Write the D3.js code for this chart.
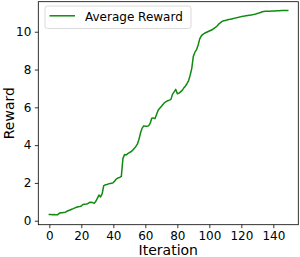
<!DOCTYPE html>
<html>
<head>
<meta charset="utf-8">
<script src="https://cdn.jsdelivr.net/npm/d3@7"></script>
<style>
  html, body { margin: 0; padding: 0; background: #fff; }
  svg { display: block; font-family: "DejaVu Sans", sans-serif; }
</style>
</head>
<body>
<svg id="chart" width="300" height="257"></svg>
<script>
// ---- data ----
const seriesName = "Average Reward";
const rewards = [
  0.33, 0.33, 0.32, 0.33, 0.31, 0.31, 0.38, 0.42, 0.42, 0.44,
  0.45, 0.50, 0.54, 0.57, 0.61, 0.64, 0.68, 0.71, 0.74, 0.75,
  0.78, 0.86, 0.87, 0.88, 0.90, 0.96, 0.98, 0.96, 0.92, 1.02,
  1.18, 1.36, 1.26, 1.42, 1.86, 1.90, 1.92, 1.95, 1.97, 1.98,
  2.02, 2.12, 2.22, 2.27, 2.29, 2.35, 3.30, 3.50, 3.48, 3.55,
  3.60, 3.65, 3.72, 3.82, 3.92, 4.05, 4.30, 4.65, 4.90, 5.02,
  5.00, 5.00, 5.02, 5.15, 5.42, 5.44, 5.40, 5.62, 5.85, 5.95,
  6.05, 6.15, 6.25, 6.30, 6.35, 6.38, 6.42, 6.70, 6.82, 6.95,
  6.72, 6.75, 6.82, 6.90, 7.02, 7.12, 7.25, 7.40, 7.70, 8.05,
  8.70, 8.92, 9.05, 9.30, 9.62, 9.78, 9.86, 9.92, 9.96, 10.00,
  10.04, 10.08, 10.12, 10.18, 10.24, 10.32, 10.42, 10.48, 10.55, 10.58,
  10.60, 10.62, 10.65, 10.66, 10.68, 10.70, 10.72, 10.74, 10.76, 10.78,
  10.80, 10.82, 10.83, 10.85, 10.86, 10.87, 10.88, 10.90, 10.92, 10.94,
  10.97, 10.99, 11.02, 11.06, 11.07, 11.08, 11.08, 11.09, 11.09, 11.10,
  11.10, 11.10, 11.11, 11.11, 11.11, 11.12, 11.12, 11.12, 11.13, 11.13
];
const iterations = rewards.map((_, i) => i);
const xTicks = [0, 20, 40, 60, 80, 100, 120, 140];
const yTicks = [0, 2, 4, 6, 8, 10];
const xLabel = "Iteration";
const yLabel = "Reward";

// ---- layout ----
const svg = d3.select("#chart");
const L = 38.3, R = 298.3, T = 1.7, B = 224.7;

const x = d3.scaleLinear().domain([-6.9, 155.6]).range([L, R]);
const y = d3.scaleLinear().domain([-0.21, 11.59]).range([B, T]);

// line
const line = d3.line().x((d, i) => x(iterations[i])).y(d => y(d));
svg.append("path")
  .datum(rewards)
  .attr("d", line)
  .attr("fill", "none")
  .attr("stroke", "#108a10")
  .attr("stroke-width", 1.5)
  .attr("stroke-linejoin", "round")
  .attr("stroke-linecap", "square");

// axes
const xAxis = d3.axisBottom(x).tickValues(xTicks).tickSize(3.5).tickPadding(3.5);
const yAxis = d3.axisLeft(y).tickValues(yTicks).tickSize(3.5).tickPadding(3.5);

const gx = svg.append("g").attr("transform", `translate(0,${B})`).call(xAxis);
const gy = svg.append("g").attr("transform", `translate(${L},0)`).call(yAxis);
[gx, gy].forEach(g => {
  g.select(".domain").remove();
  g.selectAll("text").attr("font-family", "DejaVu Sans").attr("font-size", 12).attr("fill", "#000");
  g.selectAll("line").attr("stroke", "#000").attr("stroke-width", 0.8);
});

// frame
svg.append("rect")
  .attr("x", L).attr("y", T).attr("width", R - L).attr("height", B - T)
  .attr("fill", "none").attr("stroke", "#000").attr("stroke-width", 0.8);

// axis labels
svg.append("text")
  .attr("x", (L + R) / 2).attr("y", 255)
  .attr("text-anchor", "middle")
  .attr("font-size", 14)
  .text(xLabel);
svg.append("text")
  .attr("transform", `translate(14,${(T + B) / 2}) rotate(-90)`)
  .attr("text-anchor", "middle")
  .attr("font-size", 14)
  .text(yLabel);

// legend
const lg = svg.append("g");
lg.append("rect")
  .attr("x", 45).attr("y", 6).attr("width", 146).attr("height", 22.5)
  .attr("rx", 2.5).attr("ry", 2.5)
  .attr("fill", "#fff").attr("fill-opacity", 0.8)
  .attr("stroke", "#d0d0d0").attr("stroke-width", 0.8);
lg.append("line")
  .attr("x1", 49.5).attr("x2", 75).attr("y1", 15.8).attr("y2", 15.8)
  .attr("stroke", "#108a10").attr("stroke-width", 1.5);
lg.append("text")
  .attr("x", 85).attr("y", 20.5)
  .attr("font-size", 12)
  .text(seriesName);
</script>
</body>
</html>
